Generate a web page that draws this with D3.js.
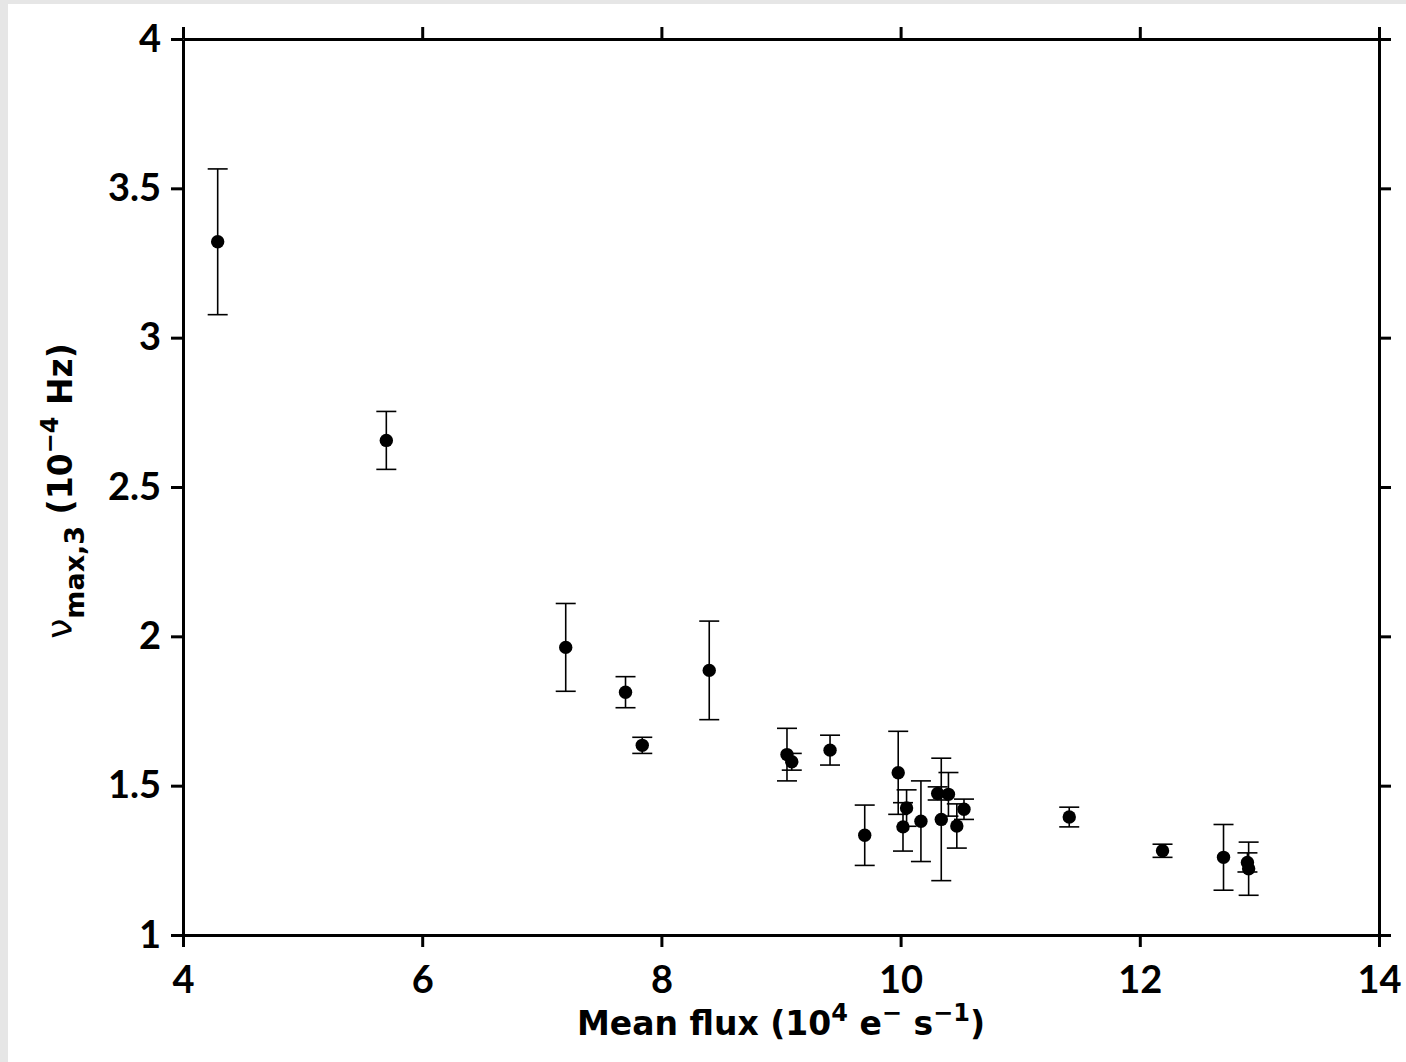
<!DOCTYPE html>
<html>
<head>
<meta charset="utf-8">
<script src="https://cdn.jsdelivr.net/npm/d3@7"></script>
<style>
  html, body { margin: 0; padding: 0; background: #e6e6e6; }
  svg { display: block; }
  text { font-family: Lato, "DejaVu Sans", sans-serif; fill: #000; }
  .title { font-family: "DejaVu Sans", sans-serif; font-weight: 700; }
</style>
</head>
<body>
<svg id="chart" width="1406" height="1062"></svg>
<script>
// Mean flux (10^4 e- s-1) of each observation
const flux = [4.29, 5.70, 7.20, 7.70, 7.84, 8.40, 9.05, 9.09, 9.41, 9.70,
              9.98, 10.02, 10.05, 10.17, 10.31, 10.34, 10.40, 10.47, 10.53,
              11.41, 12.19, 12.70, 12.90, 12.91];
// nu_max,3 (10^-4 Hz)
const nuMax = [3.321, 2.656, 1.963, 1.813, 1.635, 1.886, 1.604, 1.580, 1.619, 1.334,
               1.543, 1.362, 1.425, 1.381, 1.474, 1.387, 1.471, 1.365, 1.421,
               1.395, 1.282, 1.260, 1.243, 1.222];
// one-sigma uncertainty on nu_max,3
const nuErr = [0.244, 0.097, 0.147, 0.052, 0.027, 0.165, 0.088, 0.028, 0.050, 0.101,
               0.139, 0.081, 0.061, 0.135, 0.022, 0.205, 0.073, 0.074, 0.034,
               0.033, 0.022, 0.110, 0.032, 0.089];
const xTicks = [4, 6, 8, 10, 12, 14];
const yTicks = [1, 1.5, 2, 2.5, 3, 3.5, 4];

const svg = d3.select("#chart");
const W = 1406, H = 1062;
const m = { left: 183, right: 1379, top: 39, bottom: 935 };

// white page area
svg.append("rect").attr("x", 8).attr("y", 4).attr("width", W - 8).attr("height", H - 4)
   .attr("fill", "#fff");

const x = d3.scaleLinear().domain([4, 14]).range([m.left, m.right]);
const y = d3.scaleLinear().domain([1, 4]).range([m.bottom, m.top]);

const fmt = d => String(d);
const tickLen = 12;

function styleAxis(g) {
  g.select(".domain").attr("stroke", "#000").attr("stroke-width", 3);
  g.selectAll(".tick line").attr("stroke", "#000").attr("stroke-width", 3);
  g.selectAll(".tick text")
    .style("font-family", "Lato, 'DejaVu Sans', sans-serif")
    .style("font-weight", 700)
    .style("font-size", "38px")
    .attr("fill", "#000");
}

// bottom axis with labels
svg.append("g").attr("transform", `translate(0,${m.bottom})`)
  .call(d3.axisBottom(x).tickValues(xTicks).tickFormat(fmt).tickSize(tickLen).tickSizeOuter(0).tickPadding(19))
  .call(styleAxis);

// top axis, ticks only
svg.append("g").attr("transform", `translate(0,${m.top})`)
  .call(d3.axisTop(x).tickValues(xTicks).tickFormat("").tickSize(tickLen).tickSizeOuter(0))
  .call(styleAxis);

// left axis with labels
svg.append("g").attr("transform", `translate(${m.left},0)`)
  .call(d3.axisLeft(y).tickValues(yTicks).tickFormat(fmt).tickSize(tickLen).tickSizeOuter(0).tickPadding(10))
  .call(styleAxis);

// right axis, ticks only
svg.append("g").attr("transform", `translate(${m.right},0)`)
  .call(d3.axisRight(y).tickValues(yTicks).tickFormat("").tickSize(tickLen).tickSizeOuter(0))
  .call(styleAxis);

// data rows
const rows = flux.map((f, i) => ({ f, v: nuMax[i], e: nuErr[i] }));
const capHalf = 10;

const eb = svg.append("g").attr("stroke", "#000").attr("stroke-width", 1.6).attr("fill", "none");
eb.selectAll("line.stem").data(rows).join("line").attr("class", "stem")
  .attr("x1", d => x(d.f)).attr("x2", d => x(d.f))
  .attr("y1", d => y(d.v - d.e)).attr("y2", d => y(d.v + d.e));
eb.selectAll("line.capTop").data(rows).join("line").attr("class", "capTop")
  .attr("x1", d => x(d.f) - capHalf).attr("x2", d => x(d.f) + capHalf)
  .attr("y1", d => y(d.v + d.e)).attr("y2", d => y(d.v + d.e));
eb.selectAll("line.capBot").data(rows).join("line").attr("class", "capBot")
  .attr("x1", d => x(d.f) - capHalf).attr("x2", d => x(d.f) + capHalf)
  .attr("y1", d => y(d.v - d.e)).attr("y2", d => y(d.v - d.e));

svg.append("g").selectAll("circle").data(rows).join("circle")
  .attr("cx", d => x(d.f)).attr("cy", d => y(d.v)).attr("r", 6.7)
  .attr("fill", "#000");

// x axis title
const xt = svg.append("text").attr("class", "title")
  .attr("x", (m.left + m.right) / 2).attr("y", 1035)
  .attr("text-anchor", "middle")
  .style("font-size", "33px");
xt.append("tspan").text("Mean flux (10");
xt.append("tspan").attr("dy", -14).style("font-size", "24px").text("4");
xt.append("tspan").attr("dy", 14).text(" e");
xt.append("tspan").attr("dy", -14).style("font-size", "24px").text("\u2212");
xt.append("tspan").attr("dy", 14).text(" s");
xt.append("tspan").attr("dy", -14).style("font-size", "24px").text("\u22121");
xt.append("tspan").attr("dy", 14).text(")");

// y axis title
const yt = svg.append("text").attr("class", "title")
  .attr("transform", `translate(72,${(m.top + m.bottom) / 2 + 4}) rotate(-90)`)
  .attr("text-anchor", "middle")
  .style("font-size", "33px");
yt.append("tspan").style("font-weight", 400).style("font-size", "36px").text("\u03bd");
yt.append("tspan").attr("dy", 12).style("font-size", "27px").text("max,3");
yt.append("tspan").attr("dy", -12).text(" (10");
yt.append("tspan").attr("dy", -14).style("font-size", "24px").text("\u22124");
yt.append("tspan").attr("dy", 14).text(" Hz)");
</script>
</body>
</html>
